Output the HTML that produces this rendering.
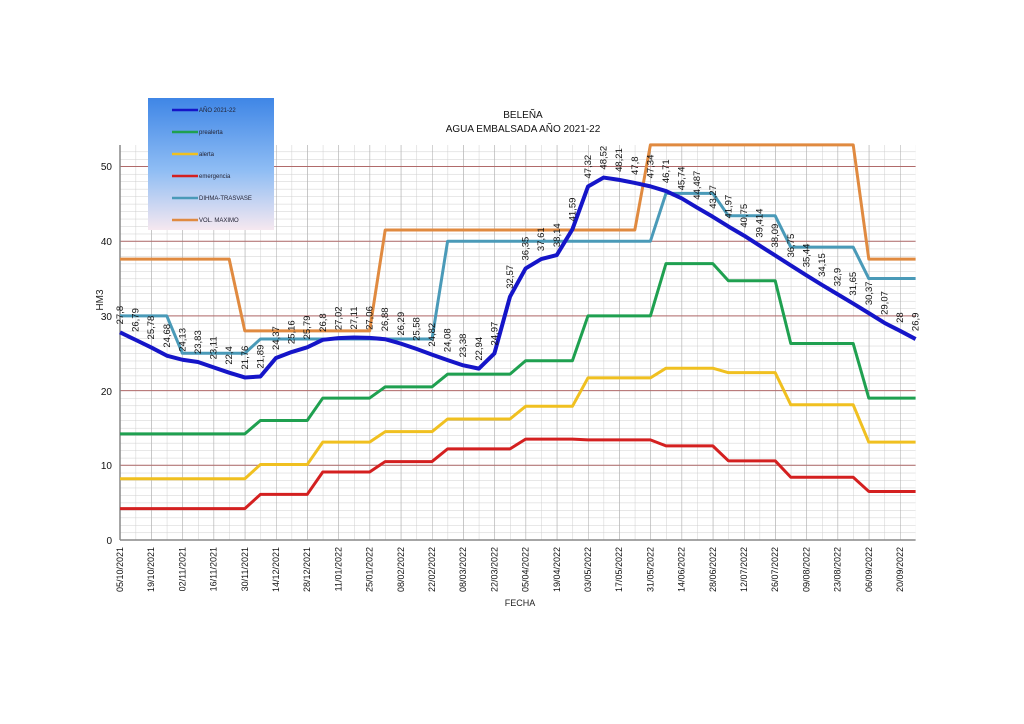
<!DOCTYPE html>
<html><head><meta charset="utf-8"><style>
body{margin:0;background:#fff;}
svg{display:block;font-family:"Liberation Sans",sans-serif;}
</style></head><body>
<svg width="1024" height="724" viewBox="0 0 1024 724" xmlns="http://www.w3.org/2000/svg">
<defs>
<pattern id="minor" patternUnits="userSpaceOnUse" x="120" y="540" width="15.6" height="7.47">
<path d="M0,0V7.47M0,0H15.6" stroke="#cfcfcf" stroke-width="1" fill="none"/>
</pattern>
<pattern id="majv" patternUnits="userSpaceOnUse" x="120" y="0" width="31.2" height="724">
<path d="M0,0V724" stroke="#a8a8a8" stroke-width="1" fill="none"/>
</pattern>
<linearGradient id="lg" x1="0" y1="0" x2="0" y2="1">
<stop offset="0" stop-color="#3f86e6"/><stop offset="0.55" stop-color="#8fbdf4"/><stop offset="1" stop-color="#f6e8f0"/>
</linearGradient>
</defs>
<rect width="1024" height="724" fill="#fff"/>
<rect x="120" y="145" width="795.6" height="395" fill="url(#minor)"/>
<rect x="120" y="145" width="795.6" height="395" fill="url(#majv)"/>
<g stroke="#b06a6a" stroke-width="1">
<line x1="120" x2="915.6" y1="465.3" y2="465.3"/>
<line x1="120" x2="915.6" y1="390.6" y2="390.6"/>
<line x1="120" x2="915.6" y1="315.9" y2="315.9"/>
<line x1="120" x2="915.6" y1="241.2" y2="241.2"/>
<line x1="120" x2="915.6" y1="166.5" y2="166.5"/>
</g>
<line x1="120" y1="145" x2="120" y2="540" stroke="#888" stroke-width="1.5"/>
<line x1="120" y1="540" x2="915.6" y2="540" stroke="#888" stroke-width="1.5"/>

<g font-size="10" fill="#111" text-anchor="end">
<text x="112" y="544">0</text><text x="112" y="469">10</text><text x="112" y="395">20</text>
<text x="112" y="320">30</text><text x="112" y="245">40</text><text x="112" y="170">50</text>
</g>
<text transform="translate(103,300) rotate(-90)" font-size="10" fill="#222" text-anchor="middle">HM3</text>
<text x="523" y="118" font-size="10" text-anchor="middle" fill="#111">BELEÑA</text>
<text x="523" y="132" font-size="10" text-anchor="middle" fill="#111">AGUA EMBALSADA AÑO 2021-22</text>
<text x="520" y="606" font-size="9" text-anchor="middle" fill="#222">FECHA</text>

<g font-size="9" fill="#111" text-anchor="end">
<text transform="translate(123,547) rotate(-90)">05/10/2021</text>
<text transform="translate(154.2,547) rotate(-90)">19/10/2021</text>
<text transform="translate(185.4,547) rotate(-90)">02/11/2021</text>
<text transform="translate(216.6,547) rotate(-90)">16/11/2021</text>
<text transform="translate(247.8,547) rotate(-90)">30/11/2021</text>
<text transform="translate(279,547) rotate(-90)">14/12/2021</text>
<text transform="translate(310.2,547) rotate(-90)">28/12/2021</text>
<text transform="translate(341.4,547) rotate(-90)">11/01/2022</text>
<text transform="translate(372.6,547) rotate(-90)">25/01/2022</text>
<text transform="translate(403.8,547) rotate(-90)">08/02/2022</text>
<text transform="translate(435,547) rotate(-90)">22/02/2022</text>
<text transform="translate(466.2,547) rotate(-90)">08/03/2022</text>
<text transform="translate(497.4,547) rotate(-90)">22/03/2022</text>
<text transform="translate(528.6,547) rotate(-90)">05/04/2022</text>
<text transform="translate(559.8,547) rotate(-90)">19/04/2022</text>
<text transform="translate(591,547) rotate(-90)">03/05/2022</text>
<text transform="translate(622.2,547) rotate(-90)">17/05/2022</text>
<text transform="translate(653.4,547) rotate(-90)">31/05/2022</text>
<text transform="translate(684.6,547) rotate(-90)">14/06/2022</text>
<text transform="translate(715.8,547) rotate(-90)">28/06/2022</text>
<text transform="translate(747,547) rotate(-90)">12/07/2022</text>
<text transform="translate(778.2,547) rotate(-90)">26/07/2022</text>
<text transform="translate(809.4,547) rotate(-90)">09/08/2022</text>
<text transform="translate(840.6,547) rotate(-90)">23/08/2022</text>
<text transform="translate(871.8,547) rotate(-90)">06/09/2022</text>
<text transform="translate(903,547) rotate(-90)">20/09/2022</text>
</g>

<g transform="translate(120,540) scale(15.6,-7.47)" fill="none" stroke-linejoin="round">
<polyline vector-effect="non-scaling-stroke" stroke="#e08a40" stroke-width="3" points="0,37.6 7,37.6 8,28 16,28 17,41.5 33,41.5 34,52.9 47,52.9 48,37.6 51,37.6"/>
<polyline vector-effect="non-scaling-stroke" stroke="#4a9ab8" stroke-width="3" points="0,30 3,30 4,25 8,25 9,26.9 20,26.9 21,40 34,40 35,46.4 38,46.4 39,43.4 42,43.4 43,39.2 47,39.2 48,35 51,35"/>
<polyline vector-effect="non-scaling-stroke" stroke="#1fa050" stroke-width="3" points="0,14.2 8,14.2 9,16 12,16 13,19 16,19 17,20.5 20,20.5 21,22.2 25,22.2 26,24 29,24 30,30 34,30 35,37 38,37 39,34.7 42,34.7 43,26.3 47,26.3 48,19 51,19"/>
<polyline vector-effect="non-scaling-stroke" stroke="#f0c020" stroke-width="3" points="0,8.2 8,8.2 9,10.1 12,10.1 13,13.1 16,13.1 17,14.5 20,14.5 21,16.2 25,16.2 26,17.9 29,17.9 30,21.7 34,21.7 35,23 38,23 39,22.4 42,22.4 43,18.1 47,18.1 48,13.1 51,13.1"/>
<polyline vector-effect="non-scaling-stroke" stroke="#d42020" stroke-width="3" points="0,4.2 8,4.2 9,6.1 12,6.1 13,9.1 16,9.1 17,10.5 20,10.5 21,12.2 25,12.2 26,13.5 29,13.5 30,13.4 34,13.4 35,12.6 38,12.6 39,10.6 42,10.6 43,8.4 47,8.4 48,6.5 51,6.5"/>
<polyline vector-effect="non-scaling-stroke" stroke="#1515c8" stroke-width="4" points="0,27.8 1,26.79 2,25.78 3,24.68 4,24.13 5,23.83 6,23.11 7,22.4 8,21.76 9,21.89 10,24.37 11,25.16 12,25.79 13,26.8 14,27.02 15,27.11 16,27.06 17,26.88 18,26.29 19,25.58 20,24.82 21,24.08 22,23.38 23,22.94 24,24.97 25,32.57 26,36.35 27,37.61 28,38.14 29,41.59 30,47.32 31,48.52 32,48.21 33,47.8 34,47.34 35,46.71 36,45.74 37,44.487 38,43.27 39,41.97 40,40.75 41,39.414 42,38.09 43,36.75 44,35.44 45,34.15 46,32.9 47,31.65 48,30.37 49,29.07 50,28 51,26.9"/>
<g fill="#111" stroke="none" font-size="9.5">
<text transform="translate(0,27.8) scale(0.0641,-0.13387) rotate(-90)" x="8" y="3">27,8</text>
<text transform="translate(1,26.79) scale(0.0641,-0.13387) rotate(-90)" x="8" y="3">26,79</text>
<text transform="translate(2,25.78) scale(0.0641,-0.13387) rotate(-90)" x="8" y="3">25,78</text>
<text transform="translate(3,24.68) scale(0.0641,-0.13387) rotate(-90)" x="8" y="3">24,68</text>
<text transform="translate(4,24.13) scale(0.0641,-0.13387) rotate(-90)" x="8" y="3">24,13</text>
<text transform="translate(5,23.83) scale(0.0641,-0.13387) rotate(-90)" x="8" y="3">23,83</text>
<text transform="translate(6,23.11) scale(0.0641,-0.13387) rotate(-90)" x="8" y="3">23,11</text>
<text transform="translate(7,22.4) scale(0.0641,-0.13387) rotate(-90)" x="8" y="3">22,4</text>
<text transform="translate(8,21.76) scale(0.0641,-0.13387) rotate(-90)" x="8" y="3">21,76</text>
<text transform="translate(9,21.89) scale(0.0641,-0.13387) rotate(-90)" x="8" y="3">21,89</text>
<text transform="translate(10,24.37) scale(0.0641,-0.13387) rotate(-90)" x="8" y="3">24,37</text>
<text transform="translate(11,25.16) scale(0.0641,-0.13387) rotate(-90)" x="8" y="3">25,16</text>
<text transform="translate(12,25.79) scale(0.0641,-0.13387) rotate(-90)" x="8" y="3">25,79</text>
<text transform="translate(13,26.8) scale(0.0641,-0.13387) rotate(-90)" x="8" y="3">26,8</text>
<text transform="translate(14,27.02) scale(0.0641,-0.13387) rotate(-90)" x="8" y="3">27,02</text>
<text transform="translate(15,27.11) scale(0.0641,-0.13387) rotate(-90)" x="8" y="3">27,11</text>
<text transform="translate(16,27.06) scale(0.0641,-0.13387) rotate(-90)" x="8" y="3">27,06</text>
<text transform="translate(17,26.88) scale(0.0641,-0.13387) rotate(-90)" x="8" y="3">26,88</text>
<text transform="translate(18,26.29) scale(0.0641,-0.13387) rotate(-90)" x="8" y="3">26,29</text>
<text transform="translate(19,25.58) scale(0.0641,-0.13387) rotate(-90)" x="8" y="3">25,58</text>
<text transform="translate(20,24.82) scale(0.0641,-0.13387) rotate(-90)" x="8" y="3">24,82</text>
<text transform="translate(21,24.08) scale(0.0641,-0.13387) rotate(-90)" x="8" y="3">24,08</text>
<text transform="translate(22,23.38) scale(0.0641,-0.13387) rotate(-90)" x="8" y="3">23,38</text>
<text transform="translate(23,22.94) scale(0.0641,-0.13387) rotate(-90)" x="8" y="3">22,94</text>
<text transform="translate(24,24.97) scale(0.0641,-0.13387) rotate(-90)" x="8" y="3">24,97</text>
<text transform="translate(25,32.57) scale(0.0641,-0.13387) rotate(-90)" x="8" y="3">32,57</text>
<text transform="translate(26,36.35) scale(0.0641,-0.13387) rotate(-90)" x="8" y="3">36,35</text>
<text transform="translate(27,37.61) scale(0.0641,-0.13387) rotate(-90)" x="8" y="3">37,61</text>
<text transform="translate(28,38.14) scale(0.0641,-0.13387) rotate(-90)" x="8" y="3">38,14</text>
<text transform="translate(29,41.59) scale(0.0641,-0.13387) rotate(-90)" x="8" y="3">41,59</text>
<text transform="translate(30,47.32) scale(0.0641,-0.13387) rotate(-90)" x="8" y="3">47,32</text>
<text transform="translate(31,48.52) scale(0.0641,-0.13387) rotate(-90)" x="8" y="3">48,52</text>
<text transform="translate(32,48.21) scale(0.0641,-0.13387) rotate(-90)" x="8" y="3">48,21</text>
<text transform="translate(33,47.8) scale(0.0641,-0.13387) rotate(-90)" x="8" y="3">47,8</text>
<text transform="translate(34,47.34) scale(0.0641,-0.13387) rotate(-90)" x="8" y="3">47,34</text>
<text transform="translate(35,46.71) scale(0.0641,-0.13387) rotate(-90)" x="8" y="3">46,71</text>
<text transform="translate(36,45.74) scale(0.0641,-0.13387) rotate(-90)" x="8" y="3">45,74</text>
<text transform="translate(37,44.487) scale(0.0641,-0.13387) rotate(-90)" x="8" y="3">44,487</text>
<text transform="translate(38,43.27) scale(0.0641,-0.13387) rotate(-90)" x="8" y="3">43,27</text>
<text transform="translate(39,41.97) scale(0.0641,-0.13387) rotate(-90)" x="8" y="3">41,97</text>
<text transform="translate(40,40.75) scale(0.0641,-0.13387) rotate(-90)" x="8" y="3">40,75</text>
<text transform="translate(41,39.414) scale(0.0641,-0.13387) rotate(-90)" x="8" y="3">39,414</text>
<text transform="translate(42,38.09) scale(0.0641,-0.13387) rotate(-90)" x="8" y="3">38,09</text>
<text transform="translate(43,36.75) scale(0.0641,-0.13387) rotate(-90)" x="8" y="3">36,75</text>
<text transform="translate(44,35.44) scale(0.0641,-0.13387) rotate(-90)" x="8" y="3">35,44</text>
<text transform="translate(45,34.15) scale(0.0641,-0.13387) rotate(-90)" x="8" y="3">34,15</text>
<text transform="translate(46,32.9) scale(0.0641,-0.13387) rotate(-90)" x="8" y="3">32,9</text>
<text transform="translate(47,31.65) scale(0.0641,-0.13387) rotate(-90)" x="8" y="3">31,65</text>
<text transform="translate(48,30.37) scale(0.0641,-0.13387) rotate(-90)" x="8" y="3">30,37</text>
<text transform="translate(49,29.07) scale(0.0641,-0.13387) rotate(-90)" x="8" y="3">29,07</text>
<text transform="translate(50,28) scale(0.0641,-0.13387) rotate(-90)" x="8" y="3">28</text>
<text transform="translate(51,26.9) scale(0.0641,-0.13387) rotate(-90)" x="8" y="3">26,9</text>
</g>
</g>

<rect x="148" y="98" width="126" height="132" fill="url(#lg)"/>
<g stroke-width="2.5">
<line x1="172" x2="198" y1="110" y2="110" stroke="#1515c8"/>
<line x1="172" x2="198" y1="132" y2="132" stroke="#1fa050"/>
<line x1="172" x2="198" y1="154" y2="154" stroke="#f0c020"/>
<line x1="172" x2="198" y1="176" y2="176" stroke="#d42020"/>
<line x1="172" x2="198" y1="198" y2="198" stroke="#4a9ab8"/>
<line x1="172" x2="198" y1="220" y2="220" stroke="#e08a40"/>
</g>
<g font-size="6" fill="#223">
<text x="199" y="112">AÑO 2021-22</text>
<text x="199" y="134">prealerta</text>
<text x="199" y="156">alerta</text>
<text x="199" y="178">emergencia</text>
<text x="199" y="200">DIHMA-TRASVASE</text>
<text x="199" y="222">VOL. MAXIMO</text>
</g>
</svg>
</body></html>
